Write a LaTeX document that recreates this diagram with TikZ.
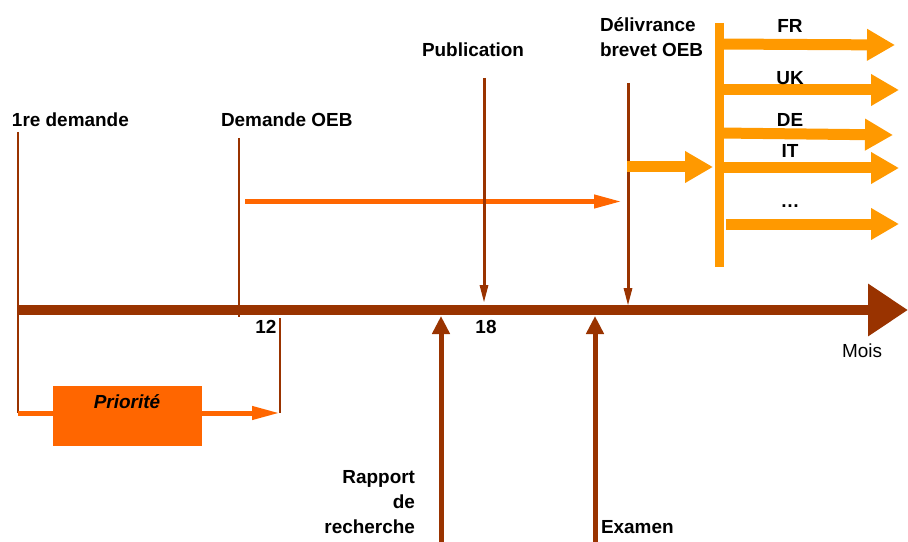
\documentclass[tikz,border=0pt]{standalone}
\usepackage{fontspec}
\setsansfont{Liberation Sans}
\usetikzlibrary{arrows.meta}
\usetikzlibrary{positioning}

\definecolor{brun}{HTML}{993300}
\definecolor{orangef}{HTML}{FF6600}
\definecolor{orangec}{HTML}{FF9900}

\begin{document}
\begin{tikzpicture}
[x=0.75pt,y=-0.75pt, lbl node/.style={font=\sffamily\bfseries\fontsize{14.2}{18.75}\selectfont,
    inner sep=0pt,outer sep=0pt}, mois node/.style={font=\sffamily\fontsize{14.2}{18.75}\selectfont,
    inner sep=0pt,outer sep=0pt}, prio box/.style={rectangle,fill=orangef,minimum
    width=111.75pt,minimum height=45pt,inner sep=0pt,outer sep=0pt},
  axe line/.style={draw=brun,line width=7.5pt,-{Triangle[length=30pt,width=37.5pt]}},
  fine line/.style={draw=brun,line width=1.5pt},
  date line/.style={draw=brun,line width=2pt},
  down line/.style={draw=brun,line width=2.25pt,-{Triangle[length=13.5pt,width=6pt]}},
  up line/.style={draw=brun,line width=3.75pt,-{Triangle[length=13.5pt,width=12.75pt]}},
  delai line/.style={draw=orangef,line width=3.75pt,-{Triangle[length=21pt,width=9.5pt]}},
  pays line/.style={draw=orangec,line width=8.25pt,-{Triangle[length=21pt,width=22.5pt]}},
  barre line/.style={draw=orangec,line width=6.75pt}]

    \useasboundingbox (0,0) rectangle (908,542);

    % axe des mois
    \coordinate (ax0) at (18,310);
    \coordinate (ax1) at (908,310);
    \draw[axe line] (ax0) -- (ax1);
    \node [mois node, anchor=base] (mois) at (862,357) {Mois};

    % premiere demande et priorite
    \node [lbl node, anchor=base west] (dem1) at (12,127) {1re demande};
    \coordinate (d1a) at (18,132);
    \coordinate (d1b) at (18,413);
    \coordinate (m12a) at (280,318);
    \coordinate (m12b) at (280,413);
    \node [lbl node, anchor=base] (m12) at (266,333) {12};
    \draw[fine line] (d1a) -- (d1b);
    \draw[fine line] (m12a) -- (m12b);
    \draw[delai line] (d1b) -- (m12b);
    \node [prio box, anchor=north] (prio) at (127.5,386) {};
    \node [lbl node, anchor=base] (priot) at (127,408) {\itshape Priorité};

    % demande OEB
    \node [lbl node, anchor=base west] (oeb) at (221,127) {Demande OEB};
    \coordinate (oeba) at (239,138);
    \coordinate (oebb) at (239,317);
    \draw[date line] (oeba) -- (oebb);
    \coordinate (proca) at (245,201.5);
    \coordinate (procb) at (622,201.5);
    \draw[delai line] (proca) -- (procb);

    % publication
    \node [lbl node, anchor=base west] (pub) at (422,57) {Publication};
    \coordinate (puba) at (484,78);
    \coordinate (pubb) at (484,303);
    \draw[down line] (puba) -- (pubb);
    \node [lbl node, anchor=base] (m18) at (486,333) {18};

    % rapport et examen
    \node [lbl node, anchor=base east] (rap) at (415,483) {Rapport};
    \node [lbl node, anchor=base east] (rapde) at (415,508) {de};
    \node [lbl node, anchor=base east] (rapre) at (415,533) {recherche};
    \coordinate (rapa) at (441,542);
    \coordinate (rapb) at (441,316);
    \draw[up line] (rapa) -- (rapb);
    \node [lbl node, anchor=base west] (exa) at (601,533) {Examen};
    \coordinate (exaa) at (595,542);
    \coordinate (exab) at (595,316);
    \draw[up line] (exaa) -- (exab);

    % delivrance
    \node [lbl node, anchor=base west] (deli) at (600,32) {Délivrance};
    \node [lbl node, anchor=base west] (deli2) at (600,57) {brevet OEB};
    \coordinate (delia) at (628,83);
    \coordinate (delib) at (628,306);
    \draw[down line] (delia) -- (delib);

    % validation dans les pays
    \coordinate (bar0) at (719.5,23);
    \coordinate (bar1) at (719.5,267);
    \coordinate (vala) at (627,167);
    \coordinate (valb) at (713,167);
    \draw[pays line] (vala) -- (valb);
    \draw[pays line] (719.5,44) -- (895,45);
    \draw[pays line] (719.5,90) -- (899,90);
    \draw[pays line] (719.5,133) -- (893,135);
    \draw[pays line] (719.5,168) -- (899,168);
    \draw[pays line] (726,224) -- (899,224);
    \draw[barre line] (bar0) -- (bar1);
    \node [lbl node, anchor=base] (fr) at (790,33) {FR};
    \node [lbl node, anchor=base] (uk) at (790,85) {UK};
    \node [lbl node, anchor=base] (de) at (790,127) {DE};
    \node [lbl node, anchor=base] (it) at (790,157) {IT};
    \node [lbl node, anchor=base] (etc) at (790,208) {…};
\end{tikzpicture}
\end{document}
